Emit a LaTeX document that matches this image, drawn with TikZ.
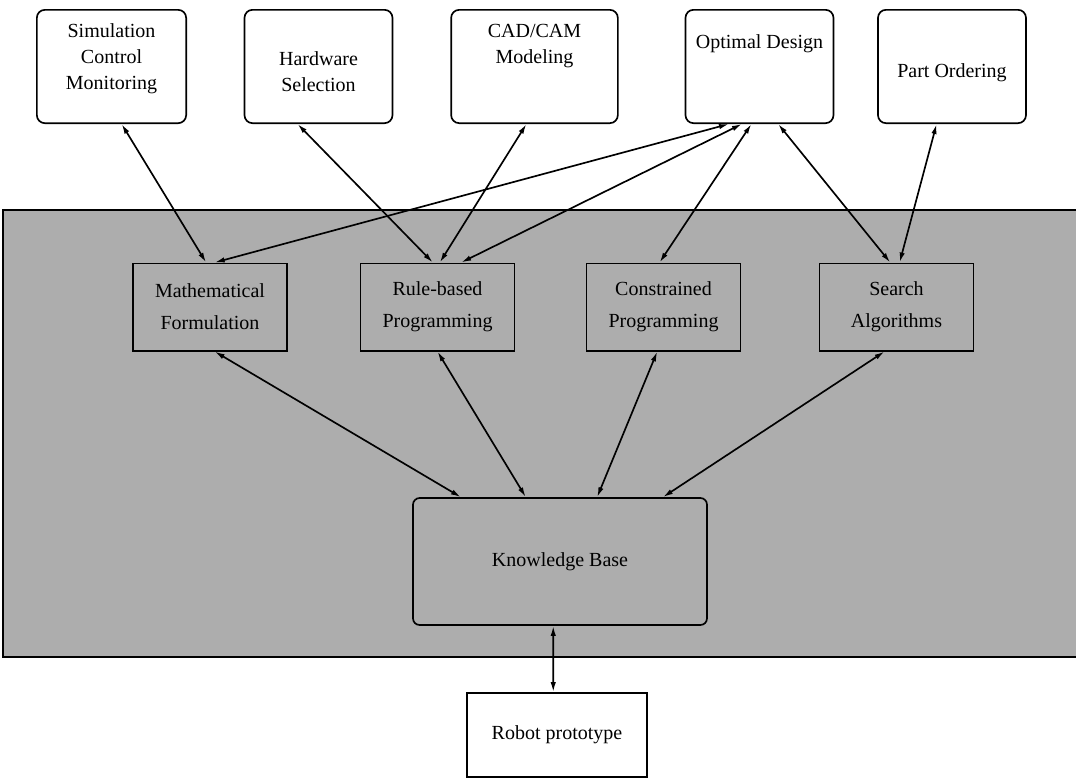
\documentclass[tikz,border=0pt]{standalone}
\usepackage{fontspec}
\setmainfont{Liberation Serif}
\usetikzlibrary{arrows.meta}

\begin{document}
\begin{tikzpicture}[
    x=0.75pt, y=-0.75pt,
    line width=1.25pt,
    >={Latex[length=7.5pt,width=4pt]},
    every node/.style={font=\fontsize{15}{19.5}\selectfont, align=center},
    task/.style={draw, fill=white, rounded corners=6pt, minimum width=#1, minimum height=85pt},
    task/.default=111pt,
    method/.style={draw, minimum width=115.5pt, minimum height=65.5pt, font=\fontsize{15}{24}\selectfont},
    link/.style={<->}
  ]
  \useasboundingbox (0,0) rectangle (1076,779);

  % shaded band
  \fill[black!32] (3,210) rectangle (1076,657);
  \draw (1076,210) -- (3,210) -- (3,657) -- (1076,657);

  % applications
  \node[task=112pt] (sim)  at (111.5,66.5) {};
  \node[task]       (hw)   at (318.5,66.5) {};
  \node[task=125pt] (cad)  at (534.5,66.5) {};
  \node[task]       (opt)  at (759.5,66.5) {};
  \node[task]       (part) at (952,66.5)   {};
  \node (simtxt)  at (111.5,59)  {Simulation\\Control\\Monitoring};
  \node (hwtxt)   at (318.5,72)  {Hardware\\Selection};
  \node (cadtxt)  at (534.5,46)  {CAD/CAM\\Modeling};
  \node (opttxt)  at (759.5,44)  {Optimal Design};
  \node (parttxt) at (952,73)    {Part Ordering};

  % methods
  \node[method] (math)   at (210,307)   {Mathematical\\Formulation};
  \node[method] (rule)   at (437.5,307) {Rule-based\\Programming};
  \node[method] (con)    at (663.5,307) {Constrained\\Programming};
  \node[method] (search) at (896.5,307) {Search\\Algorithms};

  \node[draw, rounded corners=5pt, minimum width=220.5pt, minimum height=95.25pt] (kb) at (560,561.5) {Knowledge Base};
  \node[draw, fill=white, minimum width=135pt, minimum height=63pt] (robot) at (557,735) {Robot prototype};

  \foreach \a/\b in {sim.280/math.95, hw.250/rule.96, cad.262/rule.87,
                     opt.242/math.84, opt.253/rule.62, opt.262/con.95,
                     opt.288/search.98, part.255/search.86,
                     math.276/kb.147, rule.270/kb.118, con.262/kb.60,
                     search.255/kb.32, kb.264/robot.95}
    \draw[link] (\a) -- (\b);
\end{tikzpicture}
\end{document}
